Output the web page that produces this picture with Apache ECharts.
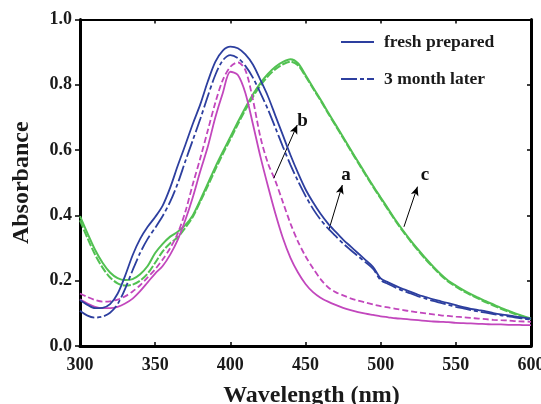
<!DOCTYPE html>
<html>
<head>
<meta charset="utf-8">
<script src="https://cdn.jsdelivr.net/npm/echarts@6/dist/echarts.min.js"></script>
<style>
html,body{margin:0;padding:0;background:#fff;}
#chart{width:541px;height:404px;}
</style>
</head>
<body>
<div id="chart"></div>
<script>
// Wavelength grid (nm)
var wavelengths = [300,305,310,315,320,325,330,335,340,345,350,355,360,365,370,375,380,385,390,395,400,405,410,415,420,425,430,435,440,445,450,455,460,465,470,475,480,485,490,495,500,505,510,515,520,525,530,535,540,545,550,555,560,565,570,575,580,585,590,595,600];

// a: blue
var blueFresh = [0.141,0.126,0.116,0.117,0.128,0.160,0.215,0.278,0.328,0.365,0.395,0.430,0.485,0.552,0.615,0.680,0.740,0.810,0.870,0.905,0.917,0.912,0.893,0.862,0.815,0.765,0.705,0.645,0.585,0.530,0.480,0.440,0.405,0.375,0.350,0.326,0.305,0.284,0.263,0.242,0.207,0.195,0.184,0.174,0.166,0.157,0.150,0.143,0.137,0.131,0.125,0.119,0.114,0.110,0.106,0.101,0.097,0.094,0.090,0.087,0.084];
var blueLater = [0.108,0.093,0.087,0.090,0.102,0.128,0.175,0.232,0.285,0.328,0.362,0.398,0.442,0.498,0.565,0.630,0.695,0.765,0.830,0.875,0.891,0.882,0.858,0.822,0.775,0.725,0.668,0.610,0.555,0.505,0.460,0.420,0.387,0.360,0.337,0.314,0.294,0.275,0.256,0.236,0.202,0.190,0.179,0.169,0.161,0.152,0.145,0.138,0.132,0.126,0.120,0.115,0.110,0.106,0.102,0.098,0.094,0.091,0.087,0.084,0.081];

// b: magenta
var magFresh = [0.143,0.130,0.120,0.116,0.116,0.120,0.130,0.145,0.168,0.195,0.222,0.245,0.280,0.325,0.385,0.455,0.535,0.610,0.700,0.775,0.840,0.830,0.775,0.680,0.580,0.490,0.405,0.330,0.270,0.225,0.190,0.165,0.148,0.136,0.126,0.117,0.110,0.104,0.099,0.095,0.091,0.088,0.085,0.083,0.081,0.079,0.077,0.075,0.074,0.073,0.071,0.070,0.069,0.068,0.067,0.066,0.066,0.065,0.065,0.064,0.064];
var magLater = [0.161,0.150,0.141,0.136,0.137,0.142,0.152,0.167,0.186,0.210,0.235,0.265,0.300,0.345,0.410,0.495,0.575,0.660,0.745,0.815,0.855,0.869,0.845,0.755,0.640,0.560,0.505,0.440,0.375,0.320,0.275,0.238,0.205,0.180,0.165,0.155,0.146,0.139,0.133,0.127,0.122,0.118,0.114,0.110,0.106,0.103,0.100,0.097,0.094,0.092,0.090,0.088,0.086,0.084,0.082,0.080,0.079,0.078,0.076,0.075,0.074];

// c: green
var greenFresh = [0.398,0.345,0.295,0.255,0.225,0.208,0.202,0.205,0.220,0.245,0.285,0.313,0.335,0.350,0.370,0.400,0.447,0.497,0.548,0.595,0.640,0.686,0.730,0.770,0.805,0.833,0.855,0.870,0.878,0.866,0.830,0.792,0.755,0.716,0.678,0.640,0.602,0.564,0.527,0.490,0.455,0.420,0.385,0.353,0.323,0.295,0.268,0.243,0.220,0.200,0.185,0.171,0.159,0.148,0.137,0.127,0.117,0.108,0.099,0.091,0.084];
var greenLater = [0.385,0.330,0.280,0.240,0.210,0.192,0.185,0.188,0.200,0.222,0.255,0.290,0.315,0.333,0.362,0.395,0.442,0.490,0.540,0.588,0.633,0.679,0.723,0.763,0.798,0.826,0.848,0.863,0.871,0.860,0.826,0.789,0.752,0.713,0.675,0.637,0.599,0.561,0.524,0.487,0.452,0.417,0.382,0.350,0.320,0.292,0.265,0.240,0.217,0.197,0.182,0.168,0.156,0.145,0.134,0.124,0.114,0.105,0.097,0.089,0.082];

var xTicks = [300,350,400,450,500,550,600];
var yTicks = [0.0,0.2,0.4,0.6,0.8,1.0];

var FONT = "'Liberation Serif','Times New Roman',serif";
var BLUE = '#2d3f9f', MAG = '#c247bd', GREEN = '#52c152';

function pairs(vals){ return wavelengths.map(function(w,i){ return [w, vals[i]]; }); }

function arrow(label, from, to, labelAt){
  return {
    markLine: {
      silent: true, animation: false,
      symbol: ['none','arrow'], symbolSize: [6,9],
      lineStyle: {color:'#000', width:1, type:'solid'},
      label: {show:false},
      emphasis: {disabled:true},
      data: [[{coord:from},{coord:to}]]
    },
    markPoint: {
      silent: true, animation: false,
      symbol: 'circle', symbolSize: 1,
      itemStyle: {color:'rgba(0,0,0,0)'},
      label: {show:true, position:'inside', formatter:label,
              fontFamily:FONT, fontWeight:'bold', fontSize:19, color:'#111'},
      data: [{coord:labelAt}]
    }
  };
}

var chart = echarts.init(document.getElementById('chart'), null, {renderer:'canvas'});
var axisLbl = {fontFamily:FONT, fontWeight:'bold', fontSize:18, color:'#1a1a1a'};
var arrA = arrow('a', [465.5,0.355], [474.5,0.493], [477,0.522]);
var arrB = arrow('b', [428.9,0.514], [444.5,0.677], [448,0.688]);
var arrC = arrow('c', [515.5,0.365], [524.5,0.488], [529.5,0.522]);
chart.setOption({
  animation: false,
  backgroundColor: '#fff',
  grid: {left:80, right:10, top:19.5, bottom:58, outerBoundsMode:'none', containLabel:false},
  legend: {
    orient:'vertical', left:340, top:33, padding:0,
    itemWidth:33, itemHeight:18, itemGap:19,
    itemStyle:{opacity:0},
    data:['fresh prepared','3 month later'],
    textStyle:{fontFamily:FONT, fontWeight:'bold', fontSize:17.5, color:'#1a1a1a', padding:[0,0,0,5]}
  },
  xAxis: [{
    type:'value', min:300, max:600, interval:50,
    name:'Wavelength (nm)', nameLocation:'middle', nameGap:38,
    nameTextStyle:{fontFamily:FONT, fontWeight:'bold', fontSize:24, color:'#1a1a1a', padding:[0,0,0,12]},
    axisLine:{show:true, lineStyle:{color:'#000', width:3}},
    axisTick:{show:true, inside:true, length:4, lineStyle:{color:'#000', width:1.5}},
    axisLabel:Object.assign({margin:10, customValues:xTicks}, axisLbl),
    splitLine:{show:false}
  },{
    type:'value', min:300, max:600, interval:50, position:'top',
    axisLine:{show:true, onZero:false, lineStyle:{color:'#000', width:2}},
    axisTick:{show:true, inside:true, length:4, lineStyle:{color:'#000', width:1.5}},
    axisLabel:{show:false}, splitLine:{show:false}
  }],
  yAxis: [{
    type:'value', min:0, max:1, interval:0.2,
    name:'Absorbance', nameLocation:'middle', nameGap:46,
    nameTextStyle:{fontFamily:FONT, fontWeight:'bold', fontSize:24, color:'#1a1a1a'},
    axisLine:{show:true, lineStyle:{color:'#000', width:3}},
    axisTick:{show:true, inside:false, length:5, lineStyle:{color:'#000', width:1.5}},
    axisLabel:Object.assign({margin:8, formatter:function(v){return v.toFixed(1);}}, axisLbl),
    splitLine:{show:false}
  },{
    type:'value', min:0, max:1, interval:0.2, position:'right',
    axisLine:{show:true, onZero:false, lineStyle:{color:'#000', width:3}},
    axisTick:{show:true, inside:true, length:4, lineStyle:{color:'#000', width:1.5}},
    axisLabel:{show:false}, splitLine:{show:false}
  }],
  series: [
    Object.assign({name:'fresh prepared', type:'line', data:pairs(blueFresh), smooth:0.3, symbol:'none',
     color:BLUE, lineStyle:{color:BLUE, width:1.8}, z:5}, arrA),
    {name:'3 month later', type:'line', data:pairs(blueLater), smooth:0.3, symbol:'none',
     color:BLUE, lineStyle:{color:BLUE, width:1.8, type:[16,3,4,3]}, z:5},
    Object.assign({name:'magenta fresh', type:'line', data:pairs(magFresh), smooth:0.3, symbol:'none',
     color:MAG, lineStyle:{color:MAG, width:1.8}, z:4}, arrB),
    {name:'magenta later', type:'line', data:pairs(magLater), smooth:0.3, symbol:'none',
     color:MAG, lineStyle:{color:MAG, width:1.8, type:[6,3]}, z:4},
    Object.assign({name:'green fresh', type:'line', data:pairs(greenFresh), smooth:0.3, symbol:'none',
     color:GREEN, lineStyle:{color:GREEN, width:2}, z:3}, arrC),
    {name:'green later', type:'line', data:pairs(greenLater), smooth:0.3, symbol:'none',
     color:GREEN, lineStyle:{color:GREEN, width:2, type:[8,2]}, z:3}
  ]
});
</script>
</body>
</html>
